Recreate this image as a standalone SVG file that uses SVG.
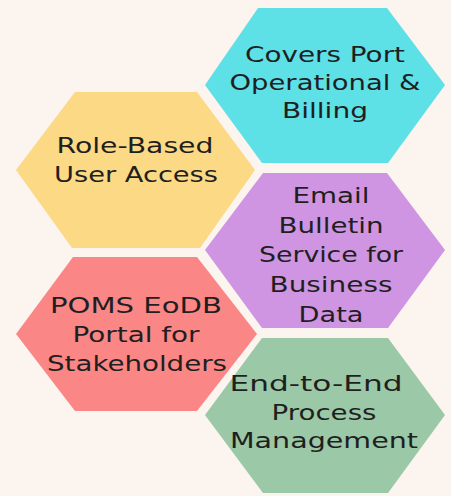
<svg xmlns="http://www.w3.org/2000/svg" width="451" height="496" viewBox="0 0 451 496">
<style>
text{font-family:"DejaVu Sans","Noto Sans",sans-serif;font-size:22px;fill:#1f1f1f;text-anchor:middle}
</style>
<rect width="451" height="496" fill="#fcf4ef"/>
<g id="node-cyan">
<polygon points="205,85 258,8 387,8 445,85 388,163 262,163" fill="#5de0e6"/>
<text x="325" y="62" textLength="160" lengthAdjust="spacingAndGlyphs">Covers Port</text>
<text x="325" y="90" textLength="191" lengthAdjust="spacingAndGlyphs">Operational &amp;</text>
<text x="325" y="118" textLength="86" lengthAdjust="spacingAndGlyphs">Billing</text>
</g>
<g id="node-yellow">
<polygon points="16,170 75,92 197,92 255,170 200,248 72,248" fill="#fcd985"/>
<text x="135" y="153" textLength="157" lengthAdjust="spacingAndGlyphs">Role-Based</text>
<text x="136" y="182" textLength="164" lengthAdjust="spacingAndGlyphs">User Access</text>
</g>
<g id="node-purple">
<polygon points="205,250 263,173 387,173 445,250 388,328 262,328" fill="#cf95e2"/>
<text x="331" y="203" textLength="77" lengthAdjust="spacingAndGlyphs">Email</text>
<text x="331" y="233" textLength="105" lengthAdjust="spacingAndGlyphs">Bulletin</text>
<text x="331" y="262" textLength="144" lengthAdjust="spacingAndGlyphs">Service for</text>
<text x="331" y="292" textLength="123" lengthAdjust="spacingAndGlyphs">Business</text>
<text x="331" y="322" textLength="65" lengthAdjust="spacingAndGlyphs">Data</text>
</g>
<g id="node-red">
<polygon points="16,334 73,257 197,257 257,334 197,411 75,411" fill="#fa8686"/>
<text x="136" y="313" textLength="172" lengthAdjust="spacingAndGlyphs">POMS EoDB</text>
<text x="136" y="342" textLength="127" lengthAdjust="spacingAndGlyphs">Portal for</text>
<text x="137" y="371" textLength="180" lengthAdjust="spacingAndGlyphs">Stakeholders</text>
</g>
<g id="node-green">
<polygon points="205,415 262,338 388,338 445,415 388,493 263,493" fill="#9bc8a6"/>
<text x="316" y="391" textLength="173" lengthAdjust="spacingAndGlyphs">End-to-End</text>
<text x="324" y="420" textLength="105" lengthAdjust="spacingAndGlyphs">Process</text>
<text x="324" y="448" textLength="188" lengthAdjust="spacingAndGlyphs">Management</text>
</g>
<g id="connectors"/>
</svg>
